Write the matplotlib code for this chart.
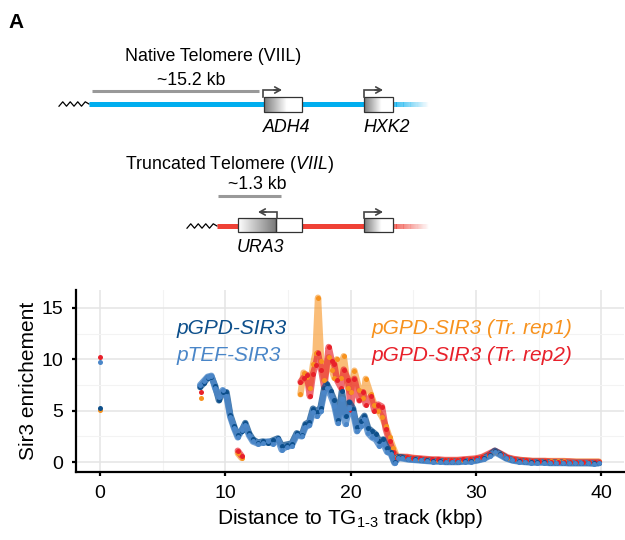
import numpy as np
import matplotlib
matplotlib.use("Agg")
import matplotlib.pyplot as plt
from matplotlib.colors import LinearSegmentedColormap
from matplotlib.patches import Rectangle

plt.rcParams['font.family'] = ['Liberation Sans', 'DejaVu Sans']
plt.rcParams['mathtext.fontset'] = 'custom'
plt.rcParams['mathtext.rm'] = 'Liberation Sans'
plt.rcParams['mathtext.it'] = 'Liberation Sans:italic'

# ---- data (kbp from the TG1-3 track, Sir3 enrichment) ----
blue_kb = [0,
           8.0, 8.3, 8.6, 8.9, 9.2, 9.5, 9.8, 10.1, 10.4, 10.7,
           11.0, 11.3, 11.6, 11.9, 12.2, 12.6, 13.0, 13.4, 13.8, 14.2,
           14.5, 14.9, 15.3, 15.7, 16.1, 16.4, 16.7, 17.0, 17.3, 17.6,
           17.9, 18.1, 18.4, 18.7, 19.0, 19.3, 19.6, 19.9, 20.2, 20.5,
           20.8, 21.1, 21.4, 21.7, 22.0, 22.3, 22.6, 22.9, 23.2, 23.5,
           23.8,
           24.1, 24.6, 25.1, 25.6, 26.1, 26.6, 27.1, 27.6, 28.1, 28.6,
           29.1, 29.6, 30.1, 30.6, 31.1, 31.5, 31.9, 32.4, 32.9, 33.4,
           33.9, 34.4, 34.9, 35.4, 35.9, 36.4, 36.9, 37.4, 37.9, 38.4,
           38.9, 39.4, 39.8]

pgpd = [5.3,
        7.3, 7.7, 8.2, 8.3, 7.4, 6.0, 6.8, 6.8, 4.6, 3.5,
        2.6, 3.0, 3.8, 2.8, 2.2, 1.9, 2.0, 1.9, 2.1, 2.3,
        1.6, 1.7, 1.8, 2.8, 2.6, 3.7, 3.9, 5.2, 4.9, 5.3,
        7.2, 7.6, 6.9, 6.0, 4.1, 6.9, 4.5, 5.8, 5.2, 3.4,
        4.0, 4.5, 3.3, 3.0, 2.7, 2.0, 2.2, 1.4, 1.0, 0.0,
        0.5,
        0.45, 0.3, 0.25, 0.2, 0.15, 0.1, 0.1, 0.05, 0.05, 0.05,
        0.1, 0.1, 0.2, 0.35, 0.7, 1.1, 0.8, 0.4, 0.2, 0.1,
        0.05, 0.0, 0.0, 0.0, -0.05, -0.05, -0.05, -0.1, -0.1, -0.1,
        -0.1, -0.1, -0.1]

ptef = [9.7,
        7.5, 7.9, 8.3, 8.4, 7.2, 6.3, 7.0, 6.4, 4.4, 3.3,
        2.4, 3.1, 3.6, 2.6, 2.0, 1.8, 1.9, 2.0, 1.8, 2.2,
        1.2, 1.5, 1.6, 2.6, 2.5, 3.4, 3.6, 4.9, 4.5, 5.0,
        6.8, 7.2, 6.5, 5.5, 3.8, 6.1, 3.7, 5.3, 4.8, 3.0,
        3.5, 4.2, 2.8, 2.4, 2.2, 1.6, 1.8, 1.0, 0.8, -0.1,
        0.4,
        0.35, 0.25, 0.2, 0.15, 0.1, 0.05, 0.05, 0.0, 0.0, 0.0,
        0.05, 0.05, 0.15, 0.3, 0.6, 0.95, 0.7, 0.35, 0.15, 0.05,
        0.0, -0.05, -0.05, -0.05, -0.1, -0.1, -0.1, -0.1, -0.1, -0.1,
        -0.1, -0.15, -0.1]

trunc_kb = [0, 8.1, 11.0, 11.3,
            16.0, 16.25, 16.5, 16.75, 17.0, 17.2, 17.4, 17.65, 17.9, 18.25,
            18.5, 18.7, 18.9, 19.25, 19.45, 19.8, 20.0, 20.3, 20.7, 21.0,
            21.2, 21.6, 21.9, 22.2, 22.5, 22.8, 23.1, 23.4, 23.7, 24.0,
            24.5, 25.0, 25.5, 26.0, 26.5, 27.0, 27.5, 28.0, 28.5, 29.0,
            29.5, 30.0, 30.5, 31.0, 31.5, 32.0, 32.5, 33.0, 33.5, 34.0,
            34.5, 35.0, 35.5, 36.0, 36.5, 37.0, 37.5, 38.0, 38.5, 39.0,
            39.5, 39.8]

rep1 = [5.1, 6.2, 0.85, 0.4,
        6.6, 8.7, 8.3, 7.2, 9.5, 10.6, 16.0, 9.8, 8.0, 10.2,
        9.0, 8.2, 10.0, 8.2, 10.3, 7.2, 6.8, 8.9, 7.0, 6.2,
        8.1, 6.6, 5.6, 5.0, 4.4, 3.5, 2.4, 1.4, 0.5, 0.5,
        0.45, 0.35, 0.3, 0.25, 0.2, 0.2, 0.15, 0.15, 0.15, 0.2,
        0.25, 0.3, 0.45, 0.7, 1.0, 0.75, 0.4, 0.25, 0.2, 0.15,
        0.1, 0.1, 0.1, 0.1, 0.1, 0.1, 0.05, 0.05, 0.05, 0.05,
        0.05, 0.05]

rep2 = [10.2, 6.8, 1.1, 0.6,
        7.8, 8.2, 8.5, 6.4, 8.6, 9.4, 10.6, 9.0, 7.2, 11.2,
        9.8, 9.5, 8.0, 7.2, 9.0, 8.0, 5.1, 8.1, 6.0, 6.8,
        5.6, 6.4, 5.0, 5.6, 5.4, 3.2, 2.0, 1.0, 0.4, 0.5,
        0.5, 0.4, 0.35, 0.3, 0.25, 0.25, 0.2, 0.2, 0.2, 0.25,
        0.3, 0.35, 0.5, 0.8, 1.1, 0.8, 0.45, 0.3, 0.2, 0.15,
        0.1, 0.1, 0.1, 0.05, 0.05, 0.05, 0.05, 0.0, 0.0, 0.0,
        0.0, 0.0]

series = [
    ("pGPD-SIR3 (Tr. rep1)", trunc_kb, rep1, "#F7921E", 0.6),
    ("pGPD-SIR3 (Tr. rep2)", trunc_kb, rep2, "#E8202A", 0.65),
    ("pGPD-SIR3", blue_kb, pgpd, "#0D4F8B", 0.75),
    ("pTEF-SIR3", blue_kb, ptef, "#4A86C8", 0.8),
]

fig = plt.figure(figsize=(6.25, 5.4), dpi=100)

# ---- schematic, drawn in pixel coordinates ----
dax = fig.add_axes([0, 0, 1, 1])
dax.patch.set_alpha(0)


def zigzag(ax, x0, x1, y, teeth=4, amp=2.2):
    xs = np.linspace(x0, x1, teeth * 2 + 1)
    ys = [y - amp if i % 2 else y + amp for i in range(len(xs))]
    ys[-1] = y
    ax.plot(xs, ys, color="black", lw=0.9)


def chrom_line(ax, x0, x1, x2, y, color):
    ax.plot([x0, x1], [y, y], color=color, lw=3.6, solid_capstyle="butt")
    edges = np.linspace(x1, x2, 31)
    for i in range(30):
        ax.plot(edges[i:i + 2], [y, y], color=color, lw=3.6,
                alpha=1 - (i + 0.5) / 30, solid_capstyle="butt")


def gene_box(ax, x0, x1, y0, y1, stops):
    cmap = LinearSegmentedColormap.from_list("g", stops)
    ax.imshow(np.linspace(0, 1, 200)[None, :], cmap=cmap, aspect="auto",
              extent=(x0, x1, y1, y0), interpolation="bilinear", zorder=3)
    ax.add_patch(Rectangle((x0, y0), x1 - x0, y1 - y0, fill=False,
                           ec="#333333", lw=0.9, zorder=4))


def tss(ax, x, ybox, ytop, xend):
    ax.plot([x, x, xend], [ybox, ytop, ytop], color="#444444", lw=1.2,
            solid_joinstyle="miter", zorder=5)
    d = 4 if xend > x else -4
    ax.annotate("", xy=(xend + d, ytop), xytext=(xend - d, ytop), zorder=5,
                arrowprops=dict(arrowstyle="->,head_length=0.4,head_width=0.22",
                                color="#444444", lw=1.2, shrinkA=0, shrinkB=0))


gray_to_white = [(0, "#7a7a7a"), (0.6, "white"), (1, "white")]

dax.text(8, 28, "A", fontsize=15, fontweight="bold")

# native telomere
dax.text(213.5, 61, "Native Telomere (VIIL)", fontsize=12.8, ha="center")
dax.text(191, 85, "~15.2 kb", fontsize=12.8, ha="center")
dax.plot([92, 259], [91, 91], color="#999999", lw=2.2, solid_capstyle="butt")
zigzag(dax, 59, 89, 104)
chrom_line(dax, 89, 393, 428, 104, "#00AEEF")
gene_box(dax, 264, 302, 97, 112, gray_to_white)
tss(dax, 263, 97, 90, 278)
gene_box(dax, 364, 393, 97, 112, gray_to_white)
tss(dax, 364, 97, 90, 379)
dax.text(287, 132, "ADH4", fontsize=12.8, style="italic", ha="center")
dax.text(387, 132, "HXK2", fontsize=12.8, style="italic", ha="center")

# truncated telomere
dax.text(125, 169, r"Truncated Telomere ($\mathit{VIIL}$)", fontsize=12.8)
dax.text(257.5, 189, "~1.3 kb", fontsize=12.8, ha="center")
dax.plot([218, 281], [196, 196], color="#999999", lw=2.2, solid_capstyle="butt")
zigzag(dax, 187, 217, 226)
chrom_line(dax, 217, 393, 428, 226, "#EF4136")
gene_box(dax, 238, 276, 218, 232, [(0, "white"), (1, "#7a7a7a")])
gene_box(dax, 276, 302, 218, 232, [(0, "white"), (1, "white")])
tss(dax, 277, 218, 212, 262)
gene_box(dax, 364, 393, 218, 232, gray_to_white)
tss(dax, 364, 218, 212, 379)
dax.text(260, 252, "URA3", fontsize=12.8, style="italic", ha="center")

dax.set_xlim(0, 625)
dax.set_ylim(540, 0)
dax.axis("off")

# ---- enrichment profile ----
ax = fig.add_axes([76 / 625, 68 / 540, 548 / 625, 182 / 540])


def segments(xs, ys, gap=2.5):
    xs = np.asarray(xs, float)
    ys = np.asarray(ys, float)
    cut = np.where(np.diff(xs) > gap)[0] + 1
    return zip(np.split(xs, cut), np.split(ys, cut))


for name, xs, ys, color, a in series:
    for sx, sy in segments(xs, ys):
        ax.plot(sx, sy, color=color, lw=4.6, alpha=a, solid_capstyle="round",
                solid_joinstyle="round", zorder=2)
for name, xs, ys, color, a in series:
    ax.plot(xs, ys, "o", color=color, ms=3.6, mew=0, zorder=3)

ax.text(6.1, 12.45, "pGPD-SIR3", color="#0D4F8B", fontsize=15, style="italic")
ax.text(6.1, 9.8, "pTEF-SIR3", color="#4A86C8", fontsize=15, style="italic")
ax.text(21.7, 12.45, "pGPD-SIR3 (Tr. rep1)", color="#F7921E", fontsize=15,
        style="italic")
ax.text(21.7, 9.8, "pGPD-SIR3 (Tr. rep2)", color="#E8202A", fontsize=15,
        style="italic")

ax.set_xlim(-1.9, 41.8)
ax.set_ylim(-0.97, 16.75)
ax.set_xticks([0, 10, 20, 30, 40])
ax.set_yticks([0, 5, 10, 15])
ax.set_xticks([5, 15, 25, 35], minor=True)
ax.set_yticks([2.5, 7.5, 12.5], minor=True)
ax.grid(which="major", color="#E4E4E4", lw=1.1)
ax.grid(which="minor", color="#F3F3F3", lw=0.8)
ax.set_axisbelow(True)
for side in ["top", "right"]:
    ax.spines[side].set_visible(False)
for side in ["left", "bottom"]:
    ax.spines[side].set_linewidth(1.6)
ax.tick_params(which="major", length=3, width=1.6, labelsize=14, pad=6)
ax.tick_params(which="minor", length=0)
ax.set_xlabel(r"Distance to TG$_{1\text{-}3}$ track (kbp)", fontsize=15, labelpad=4)
ax.set_ylabel("Sir3 enrichement", fontsize=15, labelpad=3)

fig.savefig("out.png", dpi=100)
